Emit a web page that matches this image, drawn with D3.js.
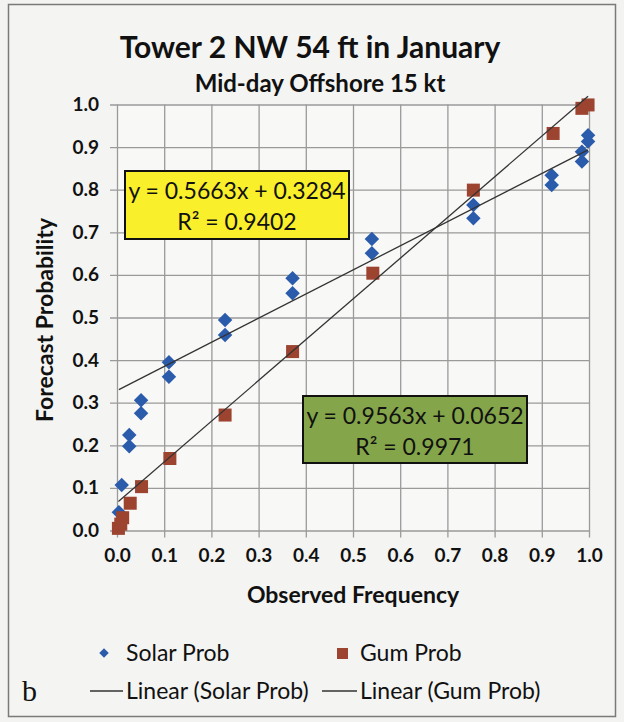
<!DOCTYPE html>
<html>
<head>
<meta charset="utf-8">
<script src="https://cdn.jsdelivr.net/npm/d3@7"></script>
<style>
  html, body { margin: 0; padding: 0; background: #f3f3f1; }
  svg { display: block; }
  text { font-family: Lato, "Open Sans", sans-serif; fill: #111; }
</style>
</head>
<body>
<svg id="chart" width="624" height="722"></svg>
<script>
// Reliability data: observed frequency vs forecast probability
const solarObserved = [0.004, 0.01, 0.026, 0.026, 0.051, 0.051, 0.11, 0.11, 0.229, 0.229, 0.372, 0.372, 0.54, 0.54, 0.755, 0.755, 0.921, 0.921, 0.985, 0.985, 0.998, 0.998];
const solarForecast = [0.043, 0.107, 0.198, 0.224, 0.275, 0.306, 0.361, 0.395, 0.459, 0.494, 0.557, 0.592, 0.651, 0.684, 0.733, 0.764, 0.811, 0.834, 0.866, 0.889, 0.913, 0.928];
const gumObserved = [0.003, 0.008, 0.012, 0.028, 0.052, 0.112, 0.229, 0.372, 0.542, 0.755, 0.924, 0.985, 0.998];
const gumForecast = [0.005, 0.015, 0.03, 0.064, 0.103, 0.169, 0.271, 0.42, 0.604, 0.799, 0.932, 0.991, 0.999];

// Linear trendlines: [slope, intercept, R²]
const solarFit = [0.5663, 0.3284, 0.9402];
const gumFit = [0.9563, 0.0652, 0.9971];

const tickValues = [0, 0.1, 0.2, 0.3, 0.4, 0.5, 0.6, 0.7, 0.8, 0.9, 1.0];
const titleText = "Tower 2 NW 54 ft in January";
const subtitleText = "Mid-day Offshore 15 kt";
const xTitle = "Observed Frequency";
const yTitle = "Forecast Probability";
const seriesNames = ["Solar Prob", "Gum Prob"];
const panelLabel = "b";

const solarColor = "#2b5cab";
const gumColor = "#9c4430";
const gridColor = "#9a9a9a";

const svg = d3.select("#chart");

// outer frame
svg.append("rect").attr("x", 8.5).attr("y", 4.5).attr("width", 607).attr("height", 712)
  .attr("fill", "#f4f4f2").attr("stroke", "#7a7a7a").attr("stroke-width", 1.5);

const x = d3.scaleLinear().domain([0, 1]).range([117, 589]);
const y = d3.scaleLinear().domain([0, 1]).range([530.5, 104.5]);

// plot area
svg.append("rect").attr("x", x(0)).attr("y", y(1))
  .attr("width", x(1) - x(0)).attr("height", y(0) - y(1)).attr("fill", "#f8f8f7");

const fmt = d3.format(".1f");
const plotH = y(0) - y(1);
const plotW = x(1) - x(0);

// x axis with full-height grid lines
const gx = svg.append("g").attr("transform", `translate(0,${y(0)})`)
  .call(d3.axisBottom(x).tickValues(tickValues).tickFormat(fmt).tickSize(7).tickPadding(11));
gx.select(".domain").remove();
gx.selectAll(".tick line").attr("y1", 7).attr("y2", -plotH)
  .attr("stroke", gridColor).attr("stroke-width", 1.3);
gx.selectAll(".tick text").attr("font-size", 19).attr("font-weight", 700)
  .style("font-family", "Lato, sans-serif").attr("fill", "#111");

// y axis with full-width grid lines
const gy = svg.append("g").attr("transform", `translate(${x(0)},0)`)
  .call(d3.axisLeft(y).tickValues(tickValues).tickFormat(fmt).tickSize(7).tickPadding(11));
gy.select(".domain").remove();
gy.selectAll(".tick line").attr("x1", -7).attr("x2", plotW)
  .attr("stroke", gridColor).attr("stroke-width", 1.3);
gy.selectAll(".tick text").attr("font-size", 19).attr("font-weight", 700)
  .style("font-family", "Lato, sans-serif").attr("fill", "#111");

// trendlines over the observed range
function trend(fit, xs) {
  const lo = d3.min(xs), hi = d3.max(xs);
  return [[lo, fit[0] * lo + fit[1]], [hi, fit[0] * hi + fit[1]]];
}
const line = d3.line().x(d => x(d[0])).y(d => y(d[1]));

// markers
const solarPts = solarObserved.map((v, i) => [v, solarForecast[i]]);
const gumPts = gumObserved.map((v, i) => [v, gumForecast[i]]);

svg.append("g").selectAll("path").data(solarPts).join("path")
  .attr("d", d3.symbol().type(d3.symbolSquare).size(105))
  .attr("transform", d => `translate(${x(d[0])},${y(d[1])}) rotate(45)`)
  .attr("fill", solarColor);

svg.append("g").selectAll("rect").data(gumPts).join("rect")
  .attr("x", d => x(d[0]) - 6.5).attr("y", d => y(d[1]) - 6.5)
  .attr("width", 13).attr("height", 13)
  .attr("fill", gumColor);

svg.append("path").datum(trend(solarFit, solarObserved)).attr("d", line)
  .attr("fill", "none").attr("stroke", "#333").attr("stroke-width", 1.3);
svg.append("path").datum(trend(gumFit, gumObserved)).attr("d", line)
  .attr("fill", "none").attr("stroke", "#333").attr("stroke-width", 1.3);

// equation boxes
function eqBox(fit, bx, by, bw, bh, fill) {
  const g = svg.append("g");
  g.append("rect").attr("x", bx).attr("y", by).attr("width", bw).attr("height", bh)
    .attr("fill", fill).attr("stroke", "#111").attr("stroke-width", 2);
  const eq = `y = ${fit[0].toFixed(4)}x + ${fit[1].toFixed(4)}`;
  g.append("text").attr("x", bx + bw / 2).attr("y", by + 28).attr("text-anchor", "middle")
    .attr("font-size", 23).text(eq);
  g.append("text").attr("x", bx + bw / 2).attr("y", by + 59).attr("text-anchor", "middle")
    .attr("font-size", 23).text("R² = " + fit[2].toFixed(4));
}
eqBox(solarFit, 125, 171, 224, 68, "#f9ef2a");
eqBox(gumFit, 303, 396, 224, 67, "#84a54a");

// titles
svg.append("text").attr("x", 310).attr("y", 58).attr("text-anchor", "middle")
  .attr("font-size", 30).attr("font-weight", 700).text(titleText);
svg.append("text").attr("x", 320).attr("y", 92).attr("text-anchor", "middle")
  .attr("font-size", 24).attr("font-weight", 700).text(subtitleText);
svg.append("text").attr("x", 353).attr("y", 603).attr("text-anchor", "middle")
  .attr("font-size", 23).attr("font-weight", 700).text(xTitle);
svg.append("text").attr("transform", "translate(53,320) rotate(-90)").attr("text-anchor", "middle")
  .attr("font-size", 23).attr("font-weight", 700).text(yTitle);

// legend
const lg = svg.append("g");
lg.append("path").attr("d", d3.symbol().type(d3.symbolSquare).size(45))
  .attr("transform", "translate(104,653) rotate(45)").attr("fill", solarColor);
lg.append("text").attr("x", 126).attr("y", 661).attr("font-size", 23).text(seriesNames[0]);
lg.append("rect").attr("x", 337).attr("y", 648).attr("width", 11).attr("height", 11).attr("fill", gumColor);
lg.append("text").attr("x", 360).attr("y", 661).attr("font-size", 23).text(seriesNames[1]);

lg.append("line").attr("x1", 90).attr("x2", 123).attr("y1", 691).attr("y2", 691)
  .attr("stroke", "#333").attr("stroke-width", 1.3);
lg.append("text").attr("x", 126).attr("y", 699).attr("font-size", 23).text(`Linear (${seriesNames[0]})`);
lg.append("line").attr("x1", 322).attr("x2", 357).attr("y1", 691).attr("y2", 691)
  .attr("stroke", "#333").attr("stroke-width", 1.3);
lg.append("text").attr("x", 360).attr("y", 699).attr("font-size", 23).text(`Linear (${seriesNames[1]})`);

svg.append("text").attr("x", 22).attr("y", 701).attr("font-size", 30)
  .style("font-family", "'Liberation Serif', 'DejaVu Serif', serif").text(panelLabel);
</script>
</body>
</html>
